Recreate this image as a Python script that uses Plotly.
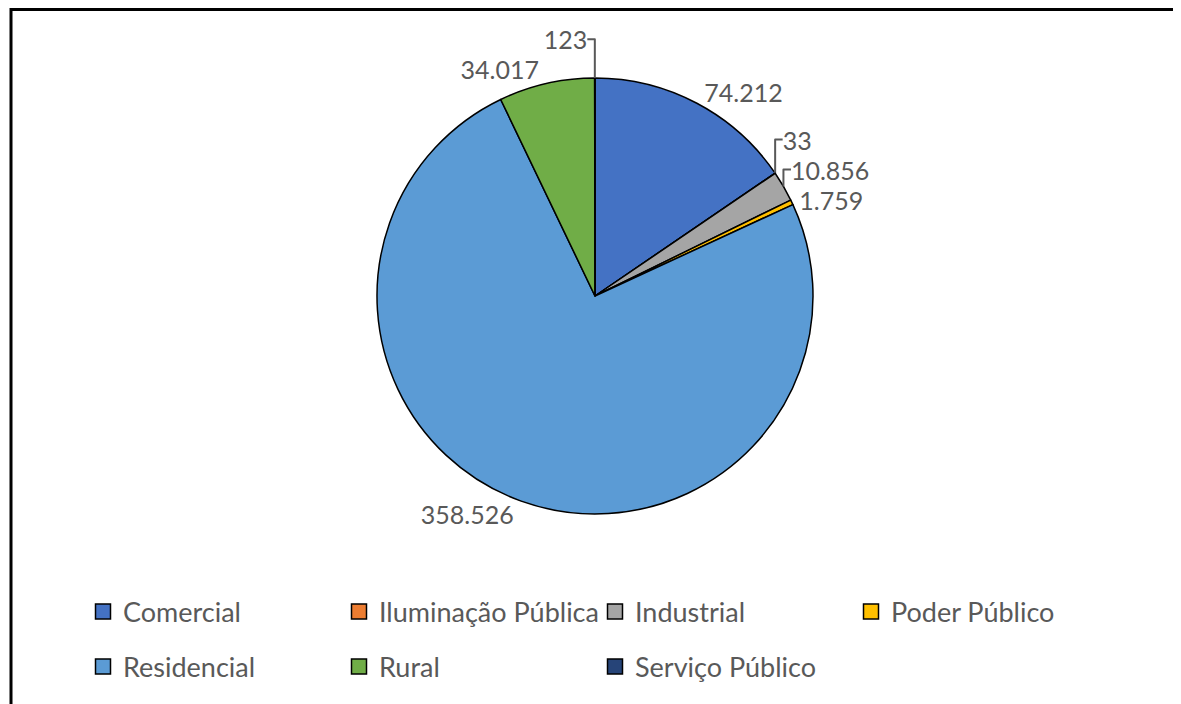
import plotly.graph_objects as go

categories = ["Comercial", "Iluminação Pública", "Industrial", "Poder Público",
              "Residencial", "Rural", "Serviço Público"]
values = [74212, 33, 10856, 1759, 358526, 34017, 123]
colors = ["#4472C4", "#ED7D31", "#A5A5A5", "#FFC000", "#5B9BD5", "#70AD47", "#264478"]

# the page body has an 8px margin, so the figure is sized to fit the window
W, H = 1173, 696
FONT = "Lato"
TXT = "#595959"

fig = go.Figure()
fig.add_trace(go.Pie(
    labels=categories, values=values, sort=False, direction="clockwise", rotation=0,
    marker=dict(colors=colors, line=dict(color="black", width=1.5)),
    textposition="outside", texttemplate="%{value:,}",
    outsidetextfont=dict(family=FONT, size=25, color=TXT),
    domain=dict(x=[369 / W, 805 / W], y=[1 - 506 / H, 1 - 70 / H]),
    showlegend=False, hoverinfo="label+value",
))

# legend entries (two rows, like the original)
for i, (c, col) in enumerate(zip(categories, colors)):
    fig.add_trace(go.Scatter(
        x=[None], y=[None], mode="markers", name=c,
        marker=dict(symbol="square", size=15, color=col, line=dict(color="black", width=1.5)),
        legend="legend" if i < 4 else "legend2", hoverinfo="skip",
    ))

legend_common = dict(
    orientation="h", xanchor="left", yanchor="middle",
    font=dict(family=FONT, size=27, color=TXT),
    entrywidth=211, entrywidthmode="pixels", itemwidth=30,
    bgcolor="rgba(0,0,0,0)",
)

fig.update_layout(
    width=W, height=H, margin=dict(l=0, r=0, t=0, b=0),
    paper_bgcolor="white", plot_bgcolor="white",
    separators=",.",
    xaxis=dict(visible=False), yaxis=dict(visible=False),
    legend=dict(x=75 / W, y=1 - 604 / H, **legend_common),
    legend2=dict(x=75 / W, y=1 - 659 / H, **legend_common),
    shapes=[
        dict(type="line", xref="paper", yref="paper", x0=2 / W, x1=1168 / W,
             y0=1 - 1.5 / H, y1=1 - 1.5 / H, line=dict(color="black", width=3)),
        dict(type="line", xref="paper", yref="paper", x0=3 / W, x1=3 / W,
             y0=1, y1=-0.05, line=dict(color="black", width=3)),
        dict(type="line", xref="paper", yref="paper", x0=1167 / W, x1=1167 / W,
             y0=1 - 1 / H, y1=-0.05, line=dict(color="#7f7f7f", width=1)),
    ],
)

fig.write_html("out.html")
